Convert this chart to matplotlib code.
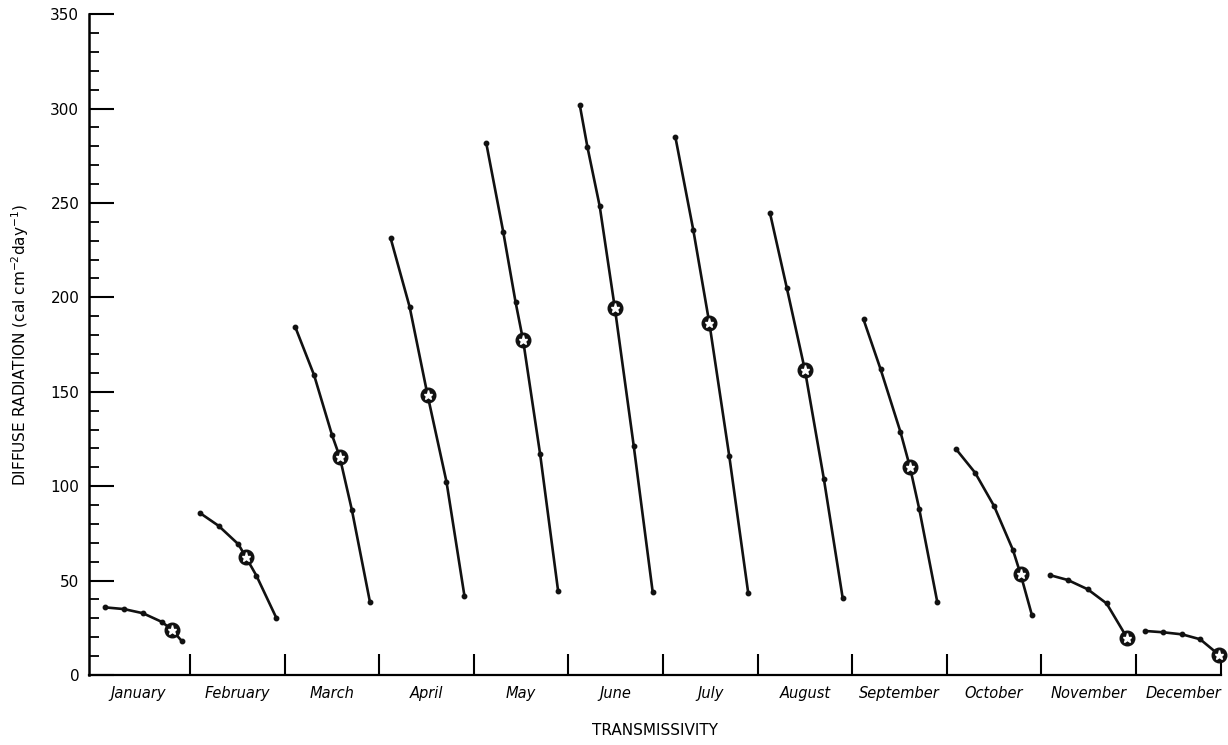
import numpy as np
import matplotlib.pyplot as plt
from matplotlib.ticker import MultipleLocator

# month panels, position of each point inside its panel (transmissivity, 0-1)
months = ['January', 'February', 'March', 'April', 'May', 'June',
          'July', 'August', 'September', 'October', 'November', 'December']

t_pts = [
    [0.10, 0.30, 0.50, 0.70, 0.91],
    [0.10, 0.30, 0.51, 0.70, 0.91],
    [0.11, 0.31, 0.50, 0.71, 0.90],
    [0.12, 0.32, 0.71, 0.90],
    [0.13, 0.31, 0.44, 0.70, 0.89],
    [0.12, 0.20, 0.33, 0.69, 0.89],
    [0.13, 0.32, 0.70, 0.90],
    [0.13, 0.31, 0.70, 0.90],
    [0.12, 0.30, 0.51, 0.71, 0.90],
    [0.10, 0.30, 0.50, 0.70, 0.90],
    [0.09, 0.28, 0.49, 0.69],
    [0.10, 0.29, 0.49, 0.68],
]
diffuse = [
    [35.8, 34.9, 32.7, 28.1, 18.0],
    [85.9, 79.0, 69.2, 52.6, 30.3],
    [184.4, 158.8, 127.0, 87.3, 38.8],
    [231.2, 195.0, 102.3, 41.8],
    [281.8, 234.7, 197.6, 117.0, 44.6],
    [301.7, 279.7, 248.3, 121.3, 44.1],
    [285.0, 235.6, 116.0, 43.6],
    [244.8, 204.7, 104.0, 40.6],
    [188.3, 162.0, 128.8, 87.7, 38.6],
    [119.5, 107.1, 89.5, 66.2, 31.8],
    [52.9, 50.3, 45.4, 37.9],
    [23.3, 22.6, 21.5, 18.9],
]
# mean transmissivity of each month (circled star)
t_mean = [0.81, 0.59, 0.58, 0.51, 0.52, 0.49, 0.49, 0.50, 0.61, 0.78, 0.91, 0.88]
d_mean = [23.8, 62.3, 115.7, 148.2, 177.3, 194.4, 186.2, 161.5, 110.3, 53.5, 19.4, 10.6]

fig = plt.figure(figsize=(12.28, 7.45), dpi=100)
ax = fig.add_axes([0.0725, 0.094, 0.9218, 0.887])

for k in range(12):
    t = np.array(t_pts[k] + [t_mean[k]])
    d = np.array(diffuse[k] + [d_mean[k]])
    order = np.argsort(t)
    ax.plot(k + t[order], d[order], color='#111111', lw=1.9, zorder=2,
            solid_capstyle='round', clip_on=False)
    ax.plot(k + np.array(t_pts[k]), diffuse[k], 'o', color='#111111', ms=3.2,
            zorder=3, clip_on=False)
    ax.plot(k + t_mean[k], d_mean[k], 'o', mfc='#111111', mec='#111111', ms=10.5,
            zorder=4, clip_on=False)
    ax.plot(k + t_mean[k], d_mean[k], '*', color='white', mec='white', ms=6.5,
            zorder=5, clip_on=False)

ax.set_xlim(-0.07, 11.9)
ax.set_ylim(0, 350)
ax.spines['top'].set_visible(False)
ax.spines['right'].set_visible(False)
ax.spines['left'].set_linewidth(1.8)
ax.spines['bottom'].set_linewidth(1.6)

ax.yaxis.set_major_locator(MultipleLocator(50))
ax.yaxis.set_minor_locator(MultipleLocator(10))
ax.tick_params(axis='y', which='major', direction='in', length=18, width=1.5,
               labelsize=11, pad=7)
ax.tick_params(axis='y', which='minor', direction='in', length=7, width=1.3)

ax.set_xticks(list(range(1, 12)) + [11.9])
ax.set_xticklabels([])
ax.tick_params(axis='x', which='major', direction='in', length=15, width=1.5)

for k, name in enumerate(months):
    xc = 0.45 if k == 0 else k + 0.5
    ax.text(xc, -6, name, ha='center', va='top', fontsize=10.5, style='italic')

ax.text(0.5, -0.072, 'TRANSMISSIVITY', transform=ax.transAxes, ha='center',
        va='top', fontsize=11)
ax.set_ylabel('DIFFUSE RADIATION (cal cm$^{-2}$day$^{-1}$)', fontsize=11, labelpad=14)

fig.savefig('out.png', dpi=100)
